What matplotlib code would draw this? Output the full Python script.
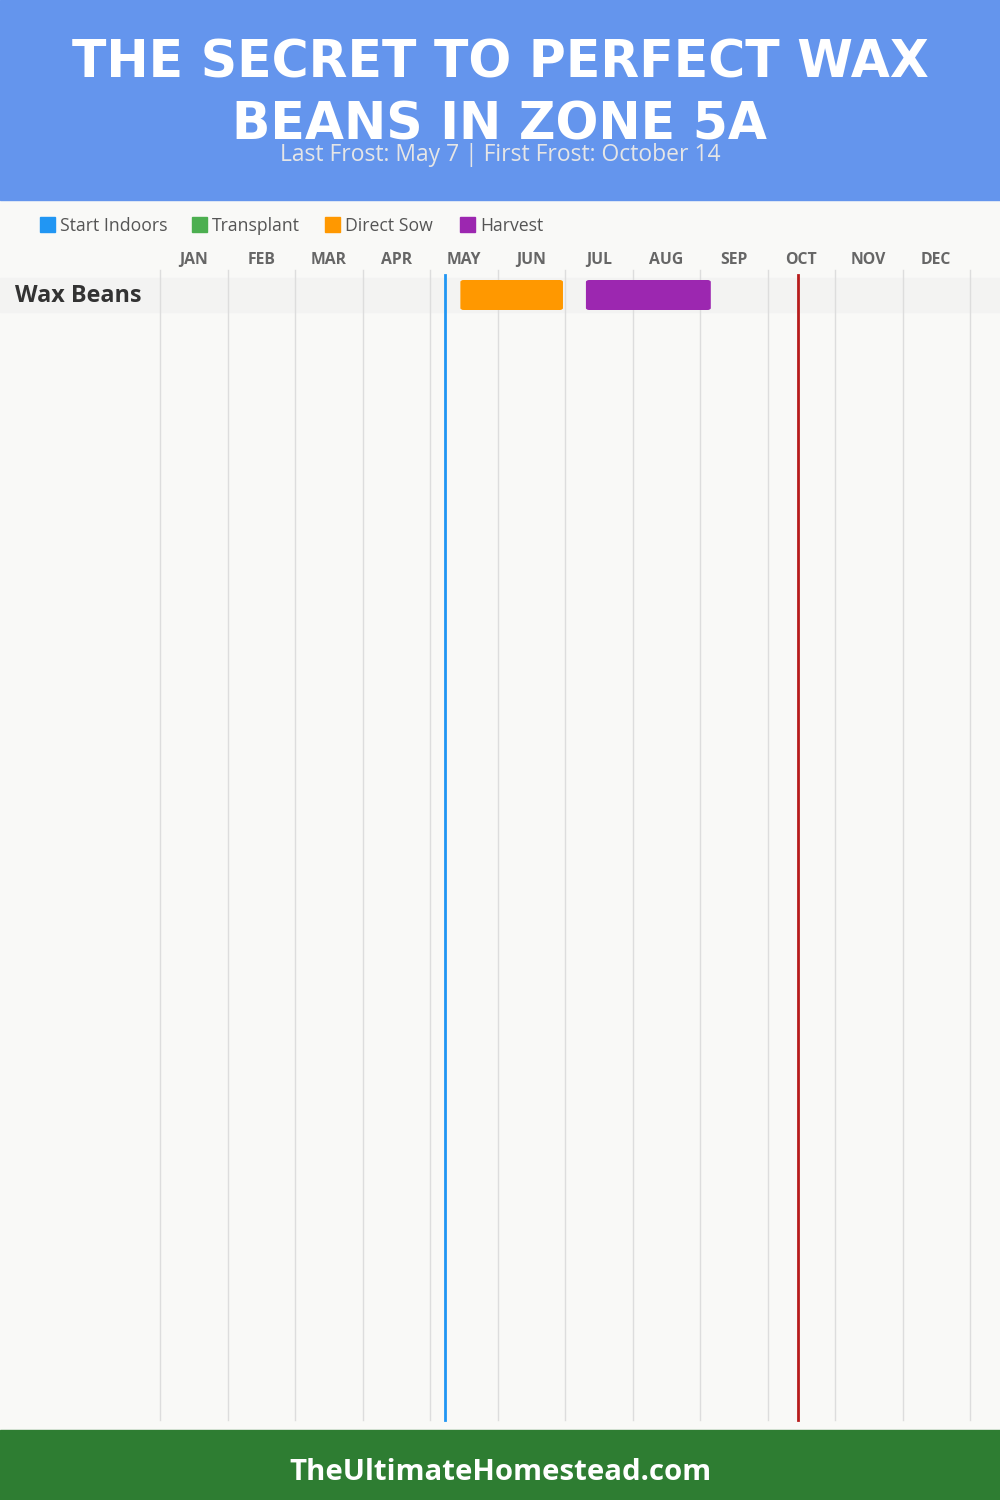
import numpy as np
import matplotlib.pyplot as plt
from matplotlib.patches import FancyBboxPatch, Rectangle

# datos
months = ["JAN", "FEB", "MAR", "APR", "MAY", "JUN", "JUL", "AUG", "SEP", "OCT", "NOV", "DEC"]
crops = ["Wax Beans"]
legend_names = ["Start Indoors", "Transplant", "Direct Sow", "Harvest"]
legend_colors = ["#2196F3", "#4CAF50", "#FF9800", "#9C27B0"]
# (inicio, fin) en meses desde el 1 de enero
direct_sow = [(4.45, 5.97)]
harvest = [(6.31, 8.16)]
last_frost = 4 + 7 / 31    # May 7
first_frost = 9 + 14 / 31  # Oct 14

W, H = 1000, 1500
fig = plt.figure(figsize=(W / 100, H / 100), dpi=100)
fig.patch.set_facecolor("#f9f9f7")

def fx(px):
    return px / W

def fy(py):
    return 1 - py / H

# cabecera
fig.patches.append(Rectangle((0, fy(200)), 1, 200 / H, transform=fig.transFigure,
                             color="#6495ED", zorder=0))
fig.text(0.5, fy(64), "THE SECRET TO PERFECT WAX", ha="center", va="center",
         color="white", fontsize=36.4, fontweight="bold", family="DejaVu Sans")
fig.text(0.5, fy(126), "BEANS IN ZONE 5A", ha="center", va="center",
         color="white", fontsize=36.4, fontweight="bold", family="DejaVu Sans")
fig.text(0.5, fy(155), "Last Frost: May 7 | First Frost: October 14", ha="center",
         va="center", color="#e6e6e6", fontsize=16.5, family="Open Sans")

# pie
fig.patches.append(Rectangle((0, 0), 1, 70 / H, transform=fig.transFigure,
                             color="#2E7D32", zorder=0))
fig.text(0.5, fy(1472), "TheUltimateHomestead.com", ha="center", va="center",
         color="white", fontsize=21.2, fontweight="bold", family="Open Sans")

# leyenda
lx = [40, 192, 325, 460]
for x, name, c in zip(lx, legend_names, legend_colors):
    fig.patches.append(Rectangle((fx(x), fy(232)), 15 / W, 15 / H,
                                 transform=fig.transFigure, color=c))
    fig.text(fx(x + 20), fy(226), name, ha="left", va="center",
             color="#555555", fontsize=12.7, family="Open Sans")

# ejes: x en meses, 67.5 px por mes, empezando en x=160
pxm = 67.5
ax = fig.add_axes([0, fy(1430), 1, (1430 - 200) / H])
ax.set_xlim(-160 / pxm, 12 + 30 / pxm)
ax.set_ylim(1430, 200)
ax.axis("off")
ax.patch.set_alpha(0)

for i in range(13):
    ax.plot([i, i], [270, 1420], color="#dddddd", lw=1, zorder=1)
for i, m in enumerate(months):
    ax.text(i + 0.5, 260, m, ha="center", va="center", color="#666666",
            fontsize=11.3, fontweight="bold", family="Open Sans")

row_h = 35
for r, crop in enumerate(crops):
    yc = 295 + r * row_h
    ax.add_patch(Rectangle((ax.get_xlim()[0], yc - 17), 20, 34, color="#f3f3f2", zorder=0.5))
    ax.text(-160 / pxm + 15 / pxm, yc + 1, crop, ha="left", va="center",
            color="#333333", fontsize=16.8, fontweight="bold", family="Open Sans")
    for (a, b), c in [(direct_sow[r], "#FF9800"), (harvest[r], "#9C27B0")]:
        ax.add_patch(FancyBboxPatch((a, yc - 15), b - a, 30,
                                    boxstyle="round,pad=0,rounding_size=0.05",
                                    mutation_aspect=40, color=c, zorder=3, lw=0))

ax.plot([last_frost] * 2, [275, 1420], color="#2196F3", lw=2, zorder=4)
ax.plot([first_frost] * 2, [275, 1420], color="#B71C1C", lw=2, zorder=4)

fig.savefig("out.png", dpi=100, facecolor=fig.get_facecolor())
